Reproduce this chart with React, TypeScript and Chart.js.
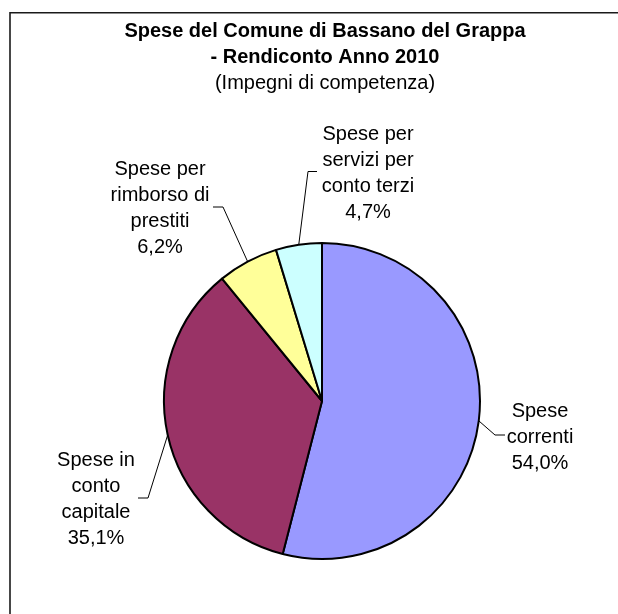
import React, { useEffect, useRef } from "react";
import { Chart, registerables } from "chart.js";

Chart.register(...registerables);

// ---- data ----
const categories = [
  "Spese correnti",
  "Spese in conto capitale",
  "Spese per rimborso di prestiti",
  "Spese per servizi per conto terzi",
];
const categoryLines = [
  ["Spese", "correnti"],
  ["Spese in", "conto", "capitale"],
  ["Spese per", "rimborso di", "prestiti"],
  ["Spese per", "servizi per", "conto terzi"],
];
const values = [54.0, 35.1, 6.2, 4.7];
const sliceColors = ["#9999FF", "#993366", "#FFFF99", "#CCFFFF"];
const titleLines = ["Spese del Comune di Bassano del Grappa", "- Rendiconto Anno 2010"];
const subtitleText = "(Impegni di competenza)";

// ---- layout (label placement) ----
const FONT = "'Liberation Sans', Arial, sans-serif";
const LINE_H = 26;
const labelLayout = [
  { bx: 495, by: 435, hx: 505, tx: 540, ty: 417 },
  { bx: 148, by: 498, hx: 138, tx: 96, ty: 466 },
  { bx: 223, by: 207, hx: 213, tx: 160, ty: 175 },
  { bx: 308, by: 171.5, hx: 317, tx: 368, ty: 140 },
];

const fmtPct = (v: number) => v.toFixed(1).replace(".", ",") + "%";

const framePlugin = {
  id: "frame",
  beforeDraw(chart: any) {
    const ctx = chart.ctx;
    ctx.save();
    ctx.fillStyle = "#ffffff";
    ctx.fillRect(0, 0, chart.width, chart.height);
    ctx.strokeStyle = "#1a1a1a";
    ctx.lineWidth = 1.6;
    ctx.beginPath();
    ctx.moveTo(10, chart.height + 20);
    ctx.lineTo(10, 12.7);
    ctx.lineTo(chart.width + 20, 12.7);
    ctx.stroke();
    // title
    ctx.fillStyle = "#000";
    ctx.textAlign = "center";
    ctx.textBaseline = "alphabetic";
    ctx.font = `bold 20px ${FONT}`;
    ctx.fillText(titleLines[0], 325, 37);
    ctx.fillText(titleLines[1], 325, 63);
    ctx.font = `20px ${FONT}`;
    ctx.fillText(subtitleText, 325, 89);
    ctx.restore();
  },
};

const labelPlugin = {
  id: "pieLabels",
  afterDatasetsDraw(chart: any) {
    const ctx = chart.ctx;
    const meta = chart.getDatasetMeta(0);
    ctx.save();
    meta.data.forEach((arc: any, i: number) => {
      const p = arc.getProps(["x", "y", "startAngle", "endAngle", "outerRadius"], true);
      const mid = (p.startAngle + p.endAngle) / 2;
      const ex = p.x + Math.cos(mid) * p.outerRadius;
      const ey = p.y + Math.sin(mid) * p.outerRadius;
      const L = labelLayout[i];
      ctx.strokeStyle = "#000";
      ctx.lineWidth = 1;
      ctx.beginPath();
      ctx.moveTo(ex, ey);
      ctx.lineTo(L.bx, L.by);
      ctx.lineTo(L.hx, L.by);
      ctx.stroke();
      const lines = [...categoryLines[i], fmtPct(values[i])];
      ctx.fillStyle = "#000";
      ctx.font = `20px ${FONT}`;
      ctx.textAlign = "center";
      ctx.textBaseline = "alphabetic";
      lines.forEach((t, k) => ctx.fillText(t, L.tx, L.ty + k * LINE_H));
    });
    ctx.restore();
  },
};

export default function App() {
  const ref = useRef<HTMLCanvasElement | null>(null);
  useEffect(() => {
    if (!ref.current) return;
    const chart = new Chart(ref.current, {
      type: "pie",
      data: {
        labels: categories,
        datasets: [
          {
            data: values,
            backgroundColor: sliceColors,
            borderColor: "#000",
            borderWidth: 2,
            hoverOffset: 0,
            radius: 158,
          } as any,
        ],
      },
      options: {
        responsive: false,
        animation: false,
        devicePixelRatio: 1,
        layout: { padding: { left: 164, right: 138, top: 243, bottom: 55 } },
        plugins: {
          legend: { display: false },
          title: { display: false },
          tooltip: { enabled: false },
        },
        events: [],
      },
      plugins: [framePlugin, labelPlugin],
    });
    return () => chart.destroy();
  }, []);
  return (
    <div style={{ position: "fixed", left: 0, top: 0, width: 618, height: 614 }}>
      <canvas ref={ref} width={618} height={614} style={{ display: "block" }} />
    </div>
  );
}
